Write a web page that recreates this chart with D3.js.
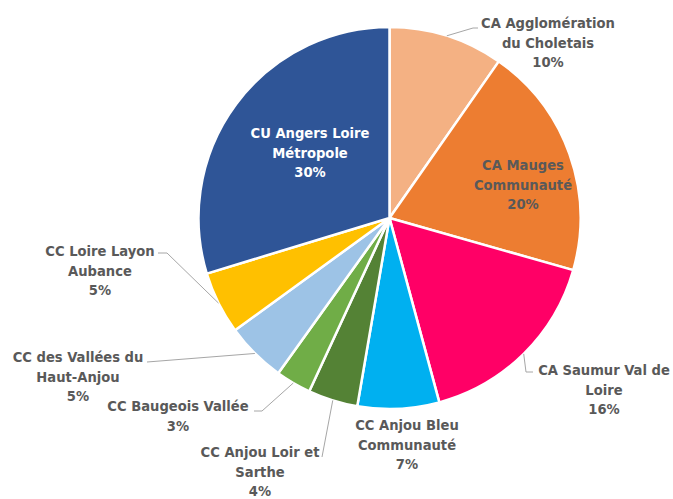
<!DOCTYPE html>
<html>
<head>
<meta charset="utf-8">
<script src="https://cdn.jsdelivr.net/npm/d3@7.9.0/dist/d3.min.js"></script>
<style>
  html, body { margin: 0; padding: 0; background: #fff; }
  svg text { font-family: "DejaVu Sans Condensed", "DejaVu Sans", sans-serif; font-weight: bold; font-size: 14.6px; }
</style>
</head>
<body>
<svg id="chart" width="673" height="499"></svg>
<script>
// Data, clockwise from 12 o'clock
const names = [
  ["CA Agglomération", "du Choletais"],
  ["CA Mauges", "Communauté"],
  ["CA Saumur Val de", "Loire"],
  ["CC Anjou Bleu", "Communauté"],
  ["CC Anjou Loir et", "Sarthe"],
  ["CC Baugeois Vallée"],
  ["CC des Vallées du", "Haut-Anjou"],
  ["CC Loire Layon", "Aubance"],
  ["CU Angers Loire", "Métropole"]
];
const values = [9.7, 19.7, 16.4, 6.9, 4.2, 3.0, 5.1, 5.3, 29.7];
const colors = ["#F4B183", "#ED7D31", "#FF0066", "#00B0F0", "#548235",
                "#70AD47", "#9DC3E6", "#FFC000", "#2F5597"];

// label layout: text centre x, first-line centre y, text colour, leader elbow/end points
const labelLayout = [
  { x: 548, y: 23, fill: "#595959", leader: [[473, 28], [478, 28]] },
  { x: 523, y: 165, fill: "#595959" },
  { x: 604, y: 370, fill: "#595959", leader: [[526, 372], [533, 372]] },
  { x: 407, y: 425, fill: "#595959" },
  { x: 260, y: 452, fill: "#595959", leader: [[322, 457]] },
  { x: 178, y: 406, fill: "#595959", leader: [[262, 411], [254, 411]] },
  { x: 78, y: 357, fill: "#595959", leader: [[147, 362]] },
  { x: 100, y: 251, fill: "#595959", leader: [[167, 253], [158, 253]] },
  { x: 310, y: 133, fill: "#ffffff" }
];

const cx = 389.5, cy = 218, radius = 191;
const lineH = 19.5;

const svg = d3.select("#chart");
const g = svg.append("g").attr("transform", `translate(${cx},${cy})`);

const total = d3.sum(values);
const pie = d3.pie().sort(null).value((d) => d);
const arcs = pie(values);
const arc = d3.arc().innerRadius(0).outerRadius(radius);

g.selectAll("path.slice")
  .data(arcs)
  .join("path")
  .attr("class", "slice")
  .attr("d", arc)
  .attr("fill", (d, i) => colors[i])
  .attr("stroke", "#fff")
  .attr("stroke-width", 2.5)
  .attr("stroke-linejoin", "round");

// leader lines start on the rim at the slice mid-angle
arcs.forEach((a, i) => {
  const lay = labelLayout[i];
  if (!lay.leader) return;
  const mid = (a.startAngle + a.endAngle) / 2;
  const start = [cx + radius * Math.sin(mid), cy - radius * Math.cos(mid)];
  svg.append("path")
    .attr("d", d3.line()([start, ...lay.leader]))
    .attr("fill", "none")
    .attr("stroke", "#A6A6A6")
    .attr("stroke-width", 1);
});

// labels
arcs.forEach((a, i) => {
  const lay = labelLayout[i];
  const lines = [...names[i], Math.round(values[i] / total * 100) + "%"];
  const t = svg.append("text")
    .attr("text-anchor", "middle")
    .attr("fill", lay.fill);
  lines.forEach((s, k) => {
    t.append("tspan")
      .attr("x", lay.x)
      .attr("y", lay.y + k * lineH + 5)
      .text(s);
  });
});
</script>
</body>
</html>
